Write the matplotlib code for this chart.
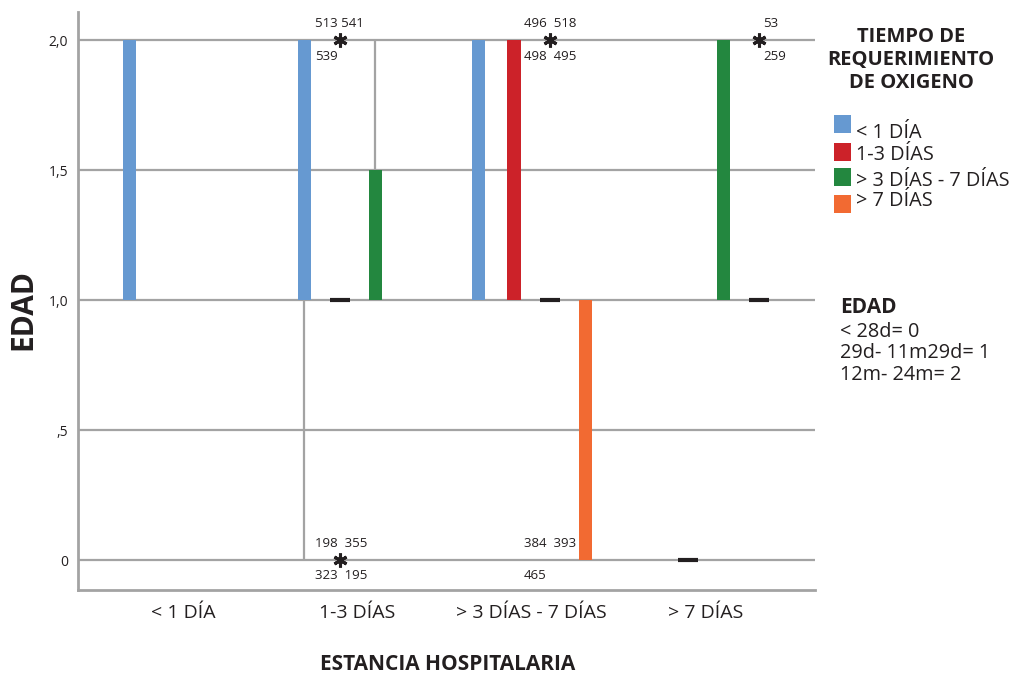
""" Diagrama de cajas: edad segun estancia hospitalaria y tiempo de oxigeno """

import matplotlib
matplotlib.use("Agg")
import matplotlib.pyplot as plt
from matplotlib.patches import Rectangle

plt.rcParams["font.family"] = ["Open Sans", "DejaVu Sans"]

ESTANCIA = ["< 1 DÍA", "1-3 DÍAS", "> 3 DÍAS - 7 DÍAS", "> 7 DÍAS"]
OXIGENO = ["< 1 DÍA", "1-3 DÍAS", "> 3 DÍAS - 7 DÍAS", "> 7 DÍAS"]
COLORES = ["#6699d1", "#cc2229", "#23873f", "#f26a32"]
GRIS = "#a3a3a3"
NEGRO = "#231f20"

Y_TICKS = [0, 0.5, 1.0, 1.5, 2.0]
Y_ETIQUETAS = ["0", ",5", "1,0", "1,5", "2,0"]

# una entrada por caja
CAJA_ESTANCIA = [0, 1, 1, 1, 2, 2, 2, 2, 3, 3, 3]
CAJA_OXIGENO = [0, 0, 1, 2, 0, 1, 2, 3, 1, 2, 3]
CAJA_Q1 = [1, 1, 1, 1, 1, 1, 1, 0, 0, 1, 1]
CAJA_MEDIANA = [2, 1, 1, 1, 2, 2, 1, 1, 0, 2, 1]
CAJA_Q3 = [2, 2, 1, 1.5, 2, 2, 1, 1, 0, 2, 1]
BIGOTE_INF = [1, 0, 1, 1, 1, 1, 1, 0, 0, 1, 1]
BIGOTE_SUP = [2, 2, 1, 2, 2, 2, 1, 1, 0, 2, 1]

# valores extremos
EXT_ESTANCIA = [1, 1, 2, 2, 3]
EXT_OXIGENO = [1, 1, 2, 2, 3]
EXT_VALOR = [2.0, 0.0, 2.0, 0.0, 2.0]
EXT_ARRIBA = ["513 541", "198  355", "496  518", "384  393", "53"]
EXT_ABAJO = ["539", "323  195", "498  495", "465", "259"]
EXT_MARCA = [True, True, True, False, True]
EXT_DX = [-18, -18, -18.5, -18.5, 3]  # puntos

DESPLAZA = 0.204
ANCHO = 0.075
ANCHO_MED = 0.115


def pos(e, o):
  return e + (o - 1.5) * DESPLAZA


def graficar():
  fig = plt.figure(figsize=(10.17, 6.75), dpi=100)
  ax = fig.add_axes([78 / 1017, 85 / 675, 737 / 1017, 578 / 675])

  for y in Y_TICKS:
    ax.axhline(y, color=GRIS, lw=1.6, zorder=1)

  for e, o, q1, med, q3, bi, bs in zip(CAJA_ESTANCIA, CAJA_OXIGENO, CAJA_Q1,
                                       CAJA_MEDIANA, CAJA_Q3, BIGOTE_INF, BIGOTE_SUP):
    x = pos(e, o)
    if bi < q1:
      ax.vlines(x, bi, q1, color=GRIS, lw=1.6, zorder=2)
    if bs > q3:
      ax.vlines(x, q3, bs, color=GRIS, lw=1.6, zorder=2)
    if q3 > q1:
      ax.bar(x, q3 - q1, bottom=q1, width=ANCHO, color=COLORES[o], lw=0, zorder=3)
    else:
      ax.hlines(med, x - ANCHO_MED / 2, x + ANCHO_MED / 2, color=NEGRO, lw=3, zorder=4)

  for e, o, v, arr, aba, marca, dx in zip(EXT_ESTANCIA, EXT_OXIGENO, EXT_VALOR,
                                          EXT_ARRIBA, EXT_ABAJO, EXT_MARCA, EXT_DX):
    x = pos(e, o)
    if marca:
      ax.plot(x, v, marker=(6, 2, 0), ms=10, mew=2.2, color=NEGRO, zorder=5)
    ax.annotate(arr, (x, v), xytext=(dx, 12), textcoords="offset points",
                ha="left", va="center", fontsize=9.5, color=NEGRO)
    ax.annotate(aba, (x, v), xytext=(dx, -11.5), textcoords="offset points",
                ha="left", va="center", fontsize=9.5, color=NEGRO)

  ax.set_xlim(-0.604, 3.625)
  ax.set_ylim(-0.1154, 2.108)
  ax.set_yticks(Y_TICKS)
  ax.set_yticklabels(Y_ETIQUETAS, fontsize=10, color=NEGRO)
  ax.set_xticks(range(len(ESTANCIA)))
  ax.set_xticklabels(ESTANCIA, fontsize=14, color=NEGRO)
  ax.tick_params(axis="y", length=0, pad=7)
  ax.tick_params(axis="x", length=0, pad=10)
  for lado in ["top", "right"]:
    ax.spines[lado].set_visible(False)
  for lado in ["left", "bottom"]:
    ax.spines[lado].set_color(GRIS)
    ax.spines[lado].set_linewidth(2)

  fig.text(448 / 1017, 1 - 664 / 675, "ESTANCIA HOSPITALARIA", ha="center",
           va="center", fontsize=15, fontweight="bold", color=NEGRO)
  fig.text(23 / 1017, 1 - 310 / 675, "EDAD", ha="center", va="center",
           rotation=90, fontsize=21.5, fontweight="bold", color=NEGRO)

  # leyenda
  for texto, yc in zip(["TIEMPO DE", "REQUERIMIENTO", "DE OXIGENO"], [37.5, 60, 82.5]):
    fig.text(911 / 1017, 1 - yc / 675, texto, ha="center", va="center",
             fontsize=14.5, fontweight="bold", color=NEGRO)
  cuadros = [124, 151.5, 177, 204]
  bases = [138, 160, 186, 206]
  for nombre, color, yc, yb in zip(OXIGENO, COLORES, cuadros, bases):
    fig.add_artist(Rectangle((834 / 1017, 1 - (yc + 9) / 675), 17 / 1017, 18 / 675,
                             transform=fig.transFigure, color=color, lw=0))
    fig.text(856 / 1017, 1 - yb / 675, nombre, ha="left", va="baseline",
             fontsize=14.3, color=NEGRO)

  fig.text(840 / 1017, 1 - 313 / 675, "EDAD", ha="left", va="baseline",
           fontsize=15, fontweight="bold", color=NEGRO)
  for texto, yb in zip(["< 28d= 0", "29d- 11m29d= 1", "12m- 24m= 2"], [337, 358, 380]):
    fig.text(840 / 1017, 1 - yb / 675, texto, ha="left", va="baseline",
             fontsize=14.3, color=NEGRO)

  fig.savefig("out.png", dpi=100)


if __name__ == "__main__":
  graficar()
